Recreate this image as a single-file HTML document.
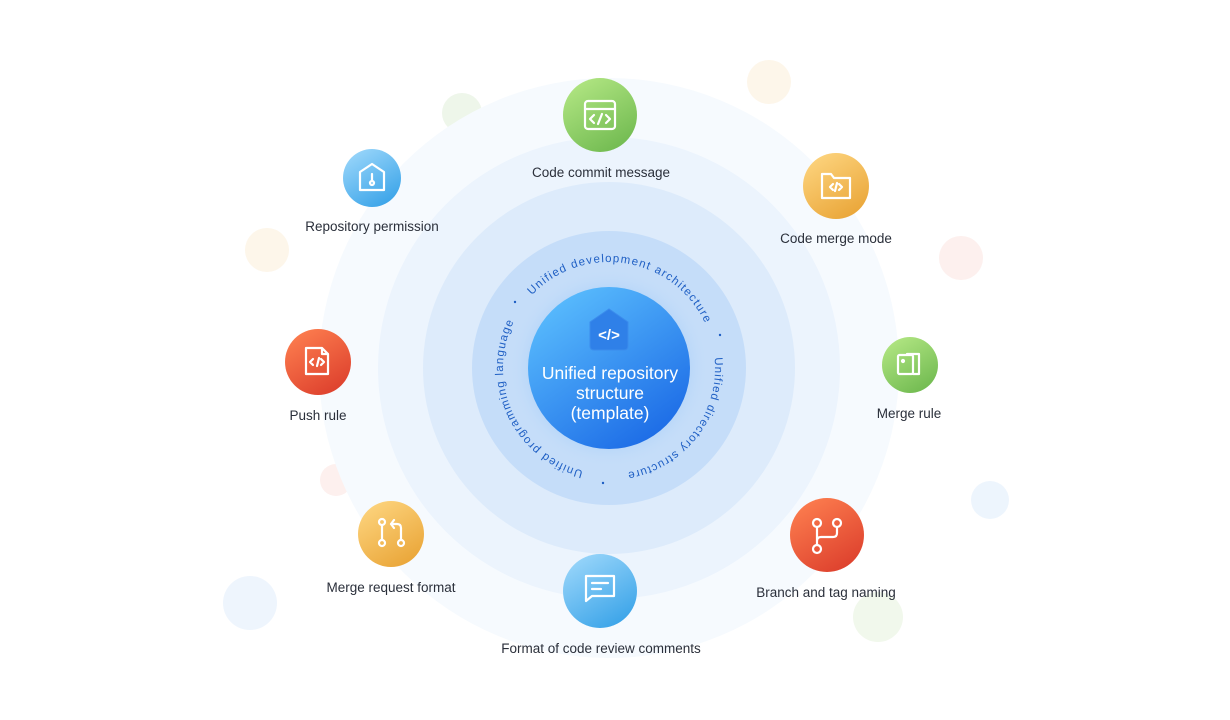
<!DOCTYPE html>
<html><head><meta charset="utf-8"><style>
html,body{margin:0;padding:0;background:#fff;}
svg{display:block;font-family:"Liberation Sans",sans-serif;}
</style></head><body>
<svg width="1230" height="720" viewBox="0 0 1230 720" xmlns="http://www.w3.org/2000/svg">
<defs>
<radialGradient id="halo" cx="0.5" cy="0.5" r="0.5">
<stop offset="0.55" stop-color="#5aa6f2" stop-opacity="0.55"/>
<stop offset="1" stop-color="#c6e0fb" stop-opacity="0"/>
</radialGradient>
<linearGradient id="ball" x1="0.2" y1="0.1" x2="0.8" y2="0.95">
<stop offset="0" stop-color="#56b8fc"/><stop offset="1" stop-color="#1c6be6"/>
</linearGradient>
<linearGradient id="gG" x1="0.2" y1="0" x2="0.8" y2="1"><stop offset="0" stop-color="#b2e683"/><stop offset="1" stop-color="#6fb94f"/></linearGradient>
<linearGradient id="gB" x1="0.2" y1="0" x2="0.8" y2="1"><stop offset="0" stop-color="#9ad6fa"/><stop offset="1" stop-color="#37a2e8"/></linearGradient>
<linearGradient id="gO" x1="0.2" y1="0" x2="0.8" y2="1"><stop offset="0" stop-color="#fdd47e"/><stop offset="1" stop-color="#e9a436"/></linearGradient>
<linearGradient id="gR" x1="0.2" y1="0" x2="0.8" y2="1"><stop offset="0" stop-color="#fd7e4f"/><stop offset="1" stop-color="#dc3e2c"/></linearGradient>
<path id="arc" d="M503,368 A106,106 0 1,1 715,368 A106,106 0 1,1 503,368 A106,106 0 1,1 715,368 A106,106 0 1,1 503,368"/>
</defs>

<!-- bubbles -->
<circle cx="462" cy="113" r="20" fill="#eef6ea"/>
<circle cx="769" cy="82" r="22" fill="#fdf6ea"/>
<circle cx="267" cy="250" r="22" fill="#fdf6ea"/>
<circle cx="961" cy="258" r="22" fill="#fdf0ee"/>
<circle cx="336" cy="480" r="16" fill="#fdf0ee"/>
<circle cx="990" cy="500" r="19" fill="#edf5fd"/>
<circle cx="250" cy="603" r="27" fill="#eef5fd"/>
<circle cx="878" cy="617" r="25" fill="#f1f8ec"/>

<!-- rings -->
<circle cx="609" cy="368" r="290" fill="#f6fafe"/>
<circle cx="609" cy="368" r="231" fill="#ecf4fd"/>
<circle cx="609" cy="368" r="186" fill="#ddebfb"/>
<circle cx="609" cy="368" r="137" fill="#c5ddf9"/>
<circle cx="609" cy="368" r="100" fill="url(#halo)"/>
<circle cx="609" cy="368" r="81" fill="url(#ball)"/>

<!-- center icon -->
<path d="M590,322 L609,309 L628,322 L628,346 Q628,350 624,350 L594,350 Q590,350 590,346 Z" fill="#2f80e8" stroke="#3b8cec" stroke-width="1"/>
<text x="609" y="340" text-anchor="middle" font-size="15" font-weight="bold" fill="#fff">&lt;/&gt;</text>
<text text-anchor="middle" font-size="17.5" fill="#fff"><tspan x="610" y="379">Unified repository</tspan><tspan x="610" y="399">structure</tspan><tspan x="610" y="419">(template)</tspan></text>

<!-- arc texts -->
<g font-size="11.5" fill="#1f5fc4" letter-spacing="0.8">
<text><textPath href="#arc" startOffset="80" textLength="207" lengthAdjust="spacing">Unified development architecture</textPath></text>
<text><textPath href="#arc" startOffset="322" textLength="159" lengthAdjust="spacing">Unified directory structure</textPath></text>
<text><textPath href="#arc" startOffset="525" textLength="189" lengthAdjust="spacing">Unified programming language</textPath></text>
</g>
<g fill="#1f5fc4">
<circle cx="515" cy="302" r="1.2"/><circle cx="720" cy="335" r="1.2"/><circle cx="603" cy="483" r="1.2"/>
</g>

<!-- nodes -->
<g fill="none" stroke="#fff" stroke-width="2.2" stroke-linecap="round" stroke-linejoin="round">
<circle cx="600" cy="115" r="37" fill="url(#gG)" stroke="none"/>
<rect x="585" y="101" width="30" height="28" rx="3"/><line x1="585" y1="109" x2="615" y2="109"/>
<path d="M594,115 l-4,4 l4,4 M606,115 l4,4 l-4,4 M602,114 l-4,10"/>

<circle cx="372" cy="178" r="29" fill="url(#gB)" stroke="none"/>
<path d="M360,172 L372,164 L384,172 L384,190 L360,190 Z"/><line x1="372" y1="174" x2="372" y2="181"/><circle cx="372" cy="183" r="2"/>

<circle cx="836" cy="186" r="33" fill="url(#gO)" stroke="none"/>
<path d="M822,174 h9 l3,4 h16 v20 h-28 Z"/><path d="M833,184 l-3,3 l3,3 M839,184 l3,3 l-3,3 M837,183 l-2,8"/>

<circle cx="910" cy="365" r="28" fill="url(#gG)" stroke="none"/>
<rect x="898" y="355" width="15" height="19" rx="1.5"/><path d="M907,354 h12 v20 h-6"/><circle cx="903" cy="361" r="1" fill="#fff"/>

<circle cx="827" cy="535" r="37" fill="url(#gR)" stroke="none"/>
<circle cx="817" cy="523" r="4"/><circle cx="837" cy="523" r="4"/><circle cx="817" cy="549" r="4"/>
<path d="M817,527 v18 M837,527 v6 q0,4 -4,4 h-12 q-4,0 -4,4"/>

<circle cx="600" cy="591" r="37" fill="url(#gB)" stroke="none"/>
<path d="M586,576 h28 v20 h-22 l-6,5 Z"/><line x1="592" y1="583" x2="608" y2="583"/><line x1="592" y1="589" x2="601" y2="589"/>

<circle cx="391" cy="534" r="33" fill="url(#gO)" stroke="none"/>
<circle cx="382" cy="522" r="3"/><circle cx="382" cy="543" r="3"/><circle cx="401" cy="543" r="3"/>
<path d="M382,525 v15 M401,540 v-12 q0,-4 -4,-4 h-6 M394,520 l-3,4 l3,4"/>

<circle cx="318" cy="362" r="33" fill="url(#gR)" stroke="none"/>
<path d="M306,348 h16 l6,6 v20 h-22 Z M322,348 v6 h6"/><path d="M313,359 l-3,3 l3,3 M321,359 l3,3 l-3,3 M319,358 l-2,8"/>
</g>

<!-- labels -->
<g font-size="13.5" fill="#2a2f3a" text-anchor="middle">
<text x="601" y="177">Code commit message</text>
<text x="372" y="231">Repository permission</text>
<text x="836" y="243">Code merge mode</text>
<text x="909" y="418">Merge rule</text>
<text x="826" y="597">Branch and tag naming</text>
<text x="601" y="653">Format of code review comments</text>
<text x="391" y="592">Merge request format</text>
<text x="318" y="420">Push rule</text>
</g>
</svg>
</body></html>
